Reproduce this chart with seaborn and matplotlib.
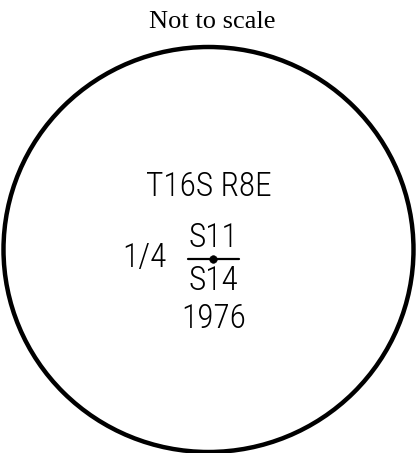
import matplotlib
matplotlib.use("Agg")
import matplotlib.pyplot as plt
import seaborn as sns
from matplotlib.patches import Ellipse

sns.set_theme(style="white")

title_text = "Not to scale"
township = "T16S R8E"
fraction_prefix = "1/4"
numerator = "S11"
denominator = "S14"
year = "1976"

sans = ["Roboto Condensed", "DejaVu Sans"]

W, H = 418, 453
fig = plt.figure(figsize=(W / 100, H / 100), dpi=100)
ax = fig.add_axes([0, 0, 1, 1])
ax.set_xlim(0, W)
ax.set_ylim(H, 0)
ax.axis("off")

ax.add_patch(Ellipse((208.5, 249.5), 410, 405, fill=False, lw=3.2, ec="black"))

ax.text(212, 22, title_text, ha="center", va="center", fontsize=19,
        family="Liberation Serif", color="black")

fs = 24
kw = dict(ha="center", va="center", fontsize=fs, family=sans, color="black", weight="light")
ax.text(209, 187, township, **kw)
ax.text(144, 258, fraction_prefix, **kw)
ax.text(213, 238, numerator, **kw)
ax.text(213, 281, denominator, **kw)
ax.text(214, 319, year, **kw)

sns.lineplot(x=[188, 239], y=[259, 259], ax=ax, color="black", lw=1.6)
sns.scatterplot(x=[213], y=[259], ax=ax, color="black", s=30, edgecolor="black")

fig.savefig("out.png", dpi=100)
